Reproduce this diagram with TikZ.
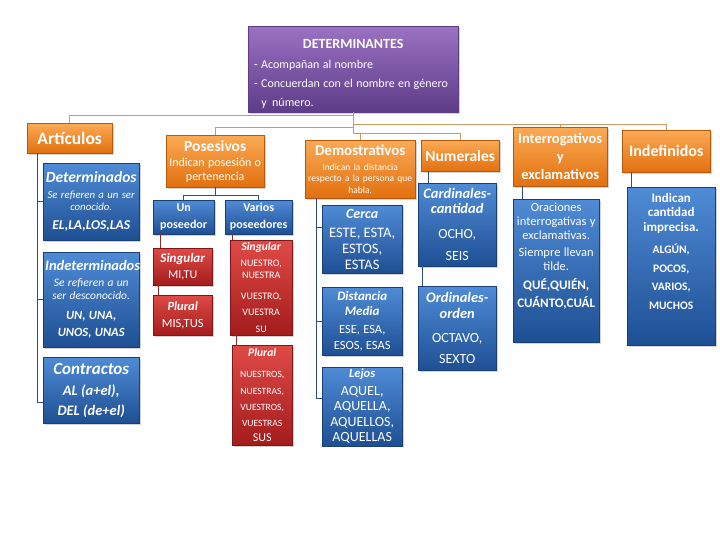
\documentclass[tikz,border=0pt]{standalone}
\usepackage{fontspec}
\setmainfont{Carlito}
\usepackage{tikz}
\usetikzlibrary{
  positioning,
  calc,
  shadows
}
\definecolor{purpleL}{HTML}{9A72C2}
\definecolor{purpleD}{HTML}{5E3C88}
\definecolor{orangeL}{HTML}{FBAA55}
\definecolor{orangeD}{HTML}{E2700F}
\definecolor{blueL}{HTML}{4F8BD6}
\definecolor{blueD}{HTML}{1E4F93}
\definecolor{redL}{HTML}{E04A46}
\definecolor{redD}{HTML}{A31C1C}
\definecolor{oline}{HTML}{C99A62}
\definecolor{bline}{HTML}{2E4F7A}
\definecolor{rline}{HTML}{8E2B2B}
% one block of lines: size, baseline skip, text
\newcommand{\blk}[3]{{\fontsize{#1}{#2}\selectfont #3\par}}

\begin{document}
\begin{tikzpicture}[
  x=1pt, y=-1pt,
  box/.style={anchor=north west, text=white, align=center, inner sep=2pt,
              drop shadow={opacity=0.35, shadow xshift=1.5pt, shadow yshift=-1.5pt}},
  mainbox/.style={box, top color=purpleL, bottom color=purpleD, draw=purpleD},
  catbox/.style={box, top color=orangeL, bottom color=orangeD, draw=orangeD!80!black},
  subbox/.style={box, top color=blueL, bottom color=blueD, draw=blueD!80!black},
  redbox/.style={box, top color=redL, bottom color=redD, draw=redD!80!black},
  oconn/.style={draw=oline, line width=1.2pt},
  bconn/.style={draw=bline, line width=1pt},
  rconn/.style={draw=rline, line width=1pt},
]
  \useasboundingbox (0,0) rectangle (720,540);

  % main box
  \node[mainbox, minimum width=210pt, minimum height=86pt, text width=198pt,
        inner xsep=6pt, align=left] (det) at (248,26)
    {\blk{14}{16}{\centering\bfseries\rule{0pt}{18pt}DETERMINANTES\par}\vspace{1pt}
     \blk{12}{19}{- Acompañan al nombre\\
     - Concuerdan con el nombre en género\\
     \hspace*{0.6em}y\, número.}};

  % categories
  \node[catbox, minimum width=83pt, minimum height=30pt, text width=81pt] (art) at (27,123)
    {\blk{17.5}{19}{\bfseries Artículos}};
  \node[catbox, minimum width=96pt, minimum height=52pt, text width=94pt] (pos) at (166,135)
    {\blk{15.5}{17}{\bfseries Posesivos}\vspace{2pt}
     \blk{12}{13.5}{Indican posesión o\\ pertenencia}};
  \node[catbox, minimum width=108pt, minimum height=58pt, text width=106pt] (dem) at (305,140)
    {\blk{15}{16}{\bfseries Demostrativos}\vspace{3pt}
     \blk{9.5}{11.5}{Indican la distancia\\ respecto a la persona que\\ habla.}};
  \node[catbox, minimum width=76pt, minimum height=31pt, text width=74pt] (num) at (421,140)
    {\blk{15.5}{17}{\bfseries Numerales}};
  \node[catbox, minimum width=92pt, minimum height=59pt, text width=90pt] (inter) at (513,127)
    {\blk{14.5}{18}{\bfseries Interrogativos\\ y\\ exclamativos}};
  \node[catbox, minimum width=86pt, minimum height=42pt, text width=84pt] (indf) at (622,130)
    {\blk{16}{18}{\bfseries Indefinidos}};

  % main connectors
  \draw[oconn] (det.south) -- ++(0,3) -| (art.north);
  \draw[oconn] (det.south) -- ++(0,15) -| (pos.north);
  \draw[oconn] (det.south) -- ++(0,21) -| (dem.north);
  \draw[oconn] (det.south) -- ++(0,21) -| (num.north);
  \draw[oconn] (det.south) -- ++(0,12) -| (inter.north);
  \draw[oconn] (det.south) -- ++(0,12) -| (indf.north);

  % Articulos
  \node[subbox, minimum width=94pt, minimum height=77pt, text width=92pt] (detd) at (43,163)
    {\blk{15.5}{16}{\bfseries\itshape Determinados}\vspace{3pt}
     \blk{10.8}{12.5}{\itshape Se refieren a un ser\\ conocido.}\vspace{4pt}
     \blk{13.5}{15}{\bfseries\itshape EL,LA,LOS,LAS}};
  \node[subbox, minimum width=94pt, minimum height=95pt, text width=92pt] (indet) at (43,252)
    {\blk{14.5}{16}{\bfseries\itshape Indeterminados}\vspace{3pt}
     \blk{11.5}{13}{\itshape Se refieren a un\\ ser desconocido.}\vspace{3pt}
     \blk{12.5}{17}{\bfseries\itshape UN, UNA,\\ UNOS, UNAS}};
  \node[subbox, minimum width=94pt, minimum height=66pt, text width=92pt] (cont) at (43,357)
    {\blk{17}{18}{\bfseries\itshape Contractos}\vspace{1pt}
     \blk{14.5}{20}{\bfseries\itshape AL (a+el),\\ DEL (de+el)}};
  \draw[bconn] ([xshift=10pt]art.south west) |- (detd.west);
  \draw[bconn] ([xshift=10pt]art.south west) |- (indet.west);
  \draw[bconn] ([xshift=10pt]art.south west) |- ([yshift=-12pt]cont.west);

  % Posesivos
  \node[subbox, minimum width=59pt, minimum height=34pt, text width=57pt] (un) at (153,200)
    {\blk{12}{17}{\bfseries Un\\ poseedor}};
  \node[subbox, minimum width=65pt, minimum height=34pt, text width=63pt] (var) at (225,200)
    {\blk{12}{17}{\bfseries Varios\\ poseedores}};
  \draw[bconn] (pos.south) -- ++(0,8) -| (un.north);
  \draw[bconn] (pos.south) -- ++(0,8) -| (var.north);

  \node[redbox, minimum width=57pt, minimum height=37pt, text width=55pt] (unsg) at (153,248)
    {\blk{13}{14}{\bfseries\itshape Singular}\vspace{3pt}\blk{12}{13}{MI,TU}};
  \node[redbox, minimum width=57pt, minimum height=40pt, text width=55pt] (unpl) at (153,295)
    {\blk{12.5}{14}{\bfseries\itshape Plural}\vspace{4pt}\blk{12.5}{13}{MIS,TUS}};
  \node[redbox, minimum width=60pt, minimum height=95pt, text width=58pt] (vsg) at (230,240)
    {\blk{11.5}{12}{\bfseries\itshape Singular}\vspace{4pt}
     \blk{10}{12}{NUESTRO,\\ NUESTRA}\vspace{4pt}
     \blk{10}{16.5}{VUESTRO,\\ VUESTRA\\ SU}};
  \node[redbox, minimum width=58pt, minimum height=100pt, text width=56pt] (vpl) at (232,345)
    {\blk{11.5}{12}{\bfseries\itshape Plural}\vspace{5pt}
     \blk{9.6}{16.3}{NUESTROS,\\ NUESTRAS,\\ VUESTROS,\\ VUESTRAS}\vspace{2pt}
     \blk{12}{13}{SUS}};
  \draw[rconn] ([xshift=7pt]un.south west) -- ([xshift=7pt]unsg.north west);
  \draw[rconn] ([xshift=5pt]unsg.south west) -- ([xshift=5pt]unpl.north west);
  \draw[rconn] ([xshift=7pt]var.south west) -- ([xshift=2pt]vsg.north west);
  \draw[rconn] ([xshift=6pt]vsg.south west) -- ([xshift=4pt]vpl.north west);

  % Demostrativos
  \node[subbox, minimum width=78pt, minimum height=68pt, text width=76pt] (cerca) at (322,205)
    {\blk{14}{15}{\bfseries\itshape Cerca}\vspace{3pt}
     \blk{14.5}{16}{ESTE, ESTA,\\ ESTOS,\\ ESTAS}};
  \node[subbox, minimum width=78pt, minimum height=68pt, text width=76pt] (dist) at (322,287)
    {\blk{13}{15}{\bfseries\itshape Distancia\\ Media}\vspace{2pt}
     \blk{12.5}{16}{ESE, ESA,\\ ESOS, ESAS}};
  \node[subbox, minimum width=78pt, minimum height=75pt, text width=76pt] (lejos) at (322,367)
    {\blk{12.5}{13}{\bfseries\itshape Lejos}\vspace{2pt}
     \blk{14}{15.5}{AQUEL,\\ AQUELLA,\\ AQUELLOS,\\ AQUELLAS}};
  \draw[bconn] ([xshift=11pt]dem.south west) |- ([yshift=12pt]cerca.west);
  \draw[bconn] ([xshift=11pt]dem.south west) |- (dist.west);
  \draw[bconn] ([xshift=11pt]dem.south west) |- ([yshift=8pt]lejos.west);

  % Numerales
  \node[subbox, minimum width=76pt, minimum height=83pt, text width=74pt] (card) at (418,183)
    {\blk{14.5}{15.5}{\bfseries\itshape Cardinales-\\ cantidad}\vspace{3pt}
     \blk{14}{22}{OCHO,\\ SEIS}};
  \node[subbox, minimum width=76pt, minimum height=84pt, text width=74pt] (ord) at (418,286)
    {\blk{14.5}{15.5}{\bfseries\itshape Ordinales-\\ orden}\vspace{3pt}
     \blk{14}{21}{OCTAVO,\\ SEXTO}};
  \draw[bconn] ([xshift=7pt]num.south west) -- ([xshift=10pt]card.north west);
  \draw[bconn] ([xshift=4pt]card.south west) -- ([xshift=4pt]ord.north west);

  % Interrogativos y exclamativos
  \node[subbox, minimum width=84pt, minimum height=143pt, text width=82pt] (interb) at (513,199)
    {\blk{12.5}{14}{Oraciones\\ interrogativas y\\ exclamativas.}\vspace{3pt}
     \blk{12.5}{14}{Siempre llevan\\ tilde.}\vspace{2pt}
     \blk{13}{17.5}{\bfseries QUÉ,QUIÉN,\\ CUÁNTO,CUÁL}\vspace{30pt}};
  \draw[bconn] ([xshift=9pt]inter.south west) -- ([xshift=9pt]interb.north west);

  % Indefinidos
  \node[subbox, minimum width=86pt, minimum height=158pt, text width=84pt] (indfb) at (627,187)
    {\blk{13}{14.5}{\bfseries Indican\\ cantidad\\ imprecisa.}\vspace{4pt}
     \blk{11.5}{18.5}{\bfseries ALGÚN,\\ POCOS,\\ VARIOS,\\ MUCHOS}\vspace{30pt}};
  \draw[bconn] ([xshift=9pt]indf.south west) -- ([xshift=4pt]indfb.north west);

\end{tikzpicture}
\end{document}
